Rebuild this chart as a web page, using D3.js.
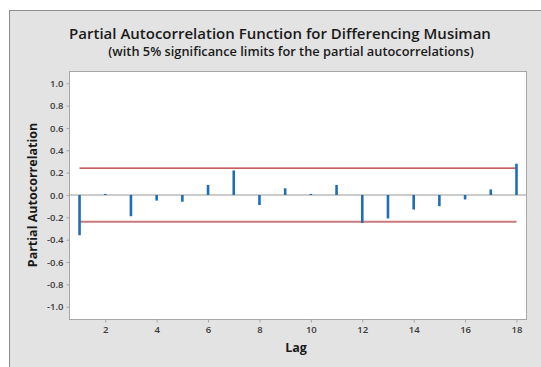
<!DOCTYPE html>
<html>
<head>
<meta charset="utf-8">
<script src="https://cdn.jsdelivr.net/npm/d3@7"></script>
<style>
  html, body { margin: 0; padding: 0; background: #fff; }
  svg { display: block; font-family: "Open Sans", "Noto Sans", sans-serif; }
</style>
</head>
<body>
<div id="chart"></div>
<script>
const lags = [1, 2, 3, 4, 5, 6, 7, 8, 9, 10, 11, 12, 13, 14, 15, 16, 17, 18]
const pacf = [-0.36, 0.01, -0.19, -0.05, -0.06, 0.09, 0.22, -0.09, 0.06, 0.01, 0.09, -0.25, -0.21, -0.13, -0.10, -0.04, 0.05, 0.28]
const limit = 0.24
const xTicks = [2, 4, 6, 8, 10, 12, 14, 16, 18]
const yTicks = [-1.0, -0.8, -0.6, -0.4, -0.2, 0.0, 0.2, 0.4, 0.6, 0.8, 1.0]

const width = 541
const height = 367
const plot = { left: 69, right: 526, top: 71, bottom: 319 }

const svg = d3.select("#chart").append("svg")
  .attr("width", width)
  .attr("height", height)

// outer gray panel
svg.append("rect")
  .attr("x", 9.5).attr("y", 10.5)
  .attr("width", width).attr("height", height)
  .attr("fill", "#e3e3e3")
  .attr("stroke", "#8c8c8c")

const x = d3.scaleLinear().domain([0.59, 18.37]).range([plot.left, plot.right])
const y = d3.scaleLinear().domain([-1.11, 1.11]).range([plot.bottom, plot.top])

svg.append("rect")
  .attr("x", plot.left + 0.5).attr("y", plot.top + 0.5)
  .attr("width", plot.right - plot.left).attr("height", plot.bottom - plot.top)
  .attr("fill", "#fff")
  .attr("stroke", "#a6a6a6")

// axes
const fmt = d => d3.format(".1f")(d).replace("−", "-")
const yAxis = svg.append("g")
  .attr("transform", `translate(${plot.left + 0.5},0)`)
  .call(d3.axisLeft(y).tickValues(yTicks).tickSize(3).tickPadding(3).tickFormat(fmt))
const xAxis = svg.append("g")
  .attr("transform", `translate(0,${plot.bottom + 0.5})`)
  .call(d3.axisBottom(x).tickValues(xTicks).tickSize(3).tickPadding(4))

for (const ax of [yAxis, xAxis]) {
  ax.select(".domain").remove()
  ax.selectAll(".tick line").attr("stroke", "#a6a6a6")
  ax.selectAll(".tick text")
    .attr("fill", "#3a3a3a")
    .attr("font-size", "9.5px")
    .attr("font-weight", 600)
    .attr("font-family", "\"Open Sans\", sans-serif")
}

// zero line
svg.append("line")
  .attr("x1", plot.left).attr("x2", plot.right)
  .attr("y1", y(0)).attr("y2", y(0))
  .attr("stroke", "#9a9a9a")
  .attr("stroke-width", 1.2)

// significance limits
svg.selectAll(".limit")
  .data([limit, -limit])
  .enter()
  .append("line")
  .attr("class", "limit")
  .attr("x1", x(lags[0])).attr("x2", x(lags[lags.length - 1]))
  .attr("y1", d => y(d)).attr("y2", d => y(d))
  .attr("stroke", (d, i) => i === 0 ? "#b3282d" : "#c97a7d")
  .attr("stroke-width", (d, i) => i === 0 ? 1.3 : 2)

// bars
svg.selectAll(".bar")
  .data(pacf)
  .enter()
  .append("line")
  .attr("class", "bar")
  .attr("x1", (d, i) => x(lags[i])).attr("x2", (d, i) => x(lags[i]))
  .attr("y1", y(0))
  .attr("y2", d => y(d))
  .attr("stroke", "#1f6db5")
  .attr("stroke-width", 2.6)

// titles
svg.append("text")
  .attr("x", 280).attr("y", 39)
  .attr("text-anchor", "middle")
  .attr("font-size", "15px")
  .attr("font-weight", 600)
  .attr("fill", "#1a1a1a")
  .text("Partial Autocorrelation Function for Differencing Musiman")

svg.append("text")
  .attr("x", 291).attr("y", 56)
  .attr("text-anchor", "middle")
  .attr("font-size", "12.8px")
  .attr("font-weight", 600)
  .attr("fill", "#1a1a1a")
  .text("(with 5% significance limits for the partial autocorrelations)")

svg.append("text")
  .attr("transform", `translate(37,${y(0)}) rotate(-90)`)
  .attr("text-anchor", "middle")
  .attr("font-size", "12.5px")
  .attr("font-weight", 700)
  .attr("fill", "#1a1a1a")
  .text("Partial Autocorrelation")

svg.append("text")
  .attr("x", 296).attr("y", 352)
  .attr("text-anchor", "middle")
  .attr("font-size", "12.5px")
  .attr("font-weight", 700)
  .attr("fill", "#1a1a1a")
  .text("Lag")
</script>
</body>
</html>
